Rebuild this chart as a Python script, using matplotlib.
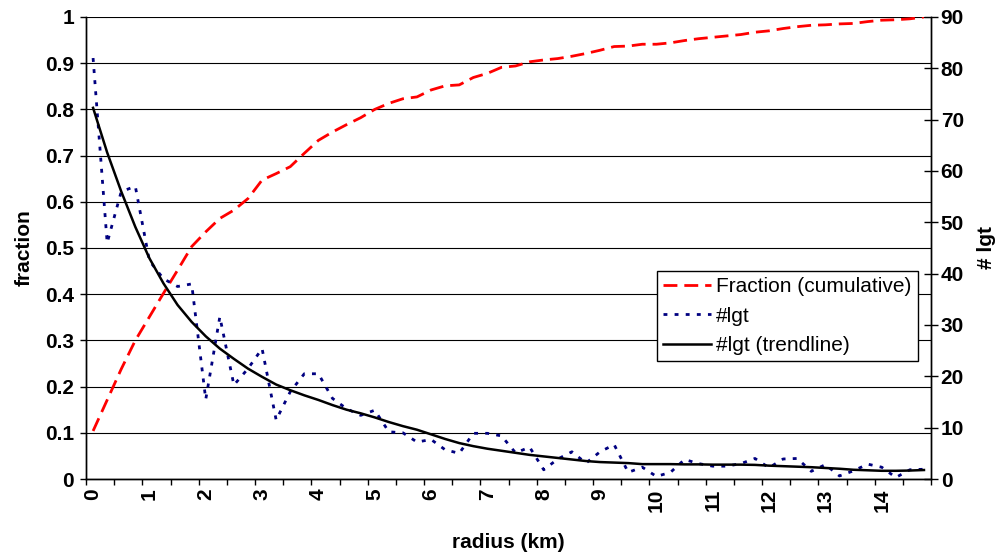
import numpy as np
import matplotlib.pyplot as plt

plt.rcParams['font.family'] = ['Liberation Sans', 'DejaVu Sans']

# categories: radius bins of 0.25 km
radius = np.arange(0, 15, 0.25)

# cumulative fraction (left axis)
fraction = [0.104, 0.171, 0.238, 0.300, 0.351, 0.402, 0.452, 0.503, 0.535, 0.564,
            0.582, 0.607, 0.647, 0.661, 0.676, 0.705, 0.733, 0.751, 0.767, 0.782,
            0.800, 0.813, 0.823, 0.827, 0.842, 0.851, 0.853, 0.869, 0.878, 0.891,
            0.894, 0.903, 0.907, 0.910, 0.915, 0.921, 0.928, 0.936, 0.937, 0.941,
            0.941, 0.944, 0.949, 0.953, 0.956, 0.959, 0.962, 0.967, 0.970, 0.975,
            0.979, 0.982, 0.983, 0.985, 0.986, 0.990, 0.993, 0.994, 0.996, 1.000]

# number of lightning per bin (right axis)
lgt = [82, 46, 56, 57, 42.5, 39, 37.5, 38, 15.5, 31.6,
       18.3, 21.5, 25.4, 11.5, 17, 20.5, 20.5, 15.7, 13.7, 12.4,
       13.4, 9.2, 9.0, 7.2, 7.7, 5.7, 5.0, 8.9, 8.9, 8.4,
       5.1, 6.2, 1.8, 3.9, 5.3, 3.1, 5.3, 6.7, 1.3, 2.3,
       0.5, 1.3, 3.8, 3.0, 2.5, 2.5, 3.0, 4.0, 2.2, 3.9,
       4.0, 1.5, 2.8, 0.6, 1.6, 2.9, 2.3, 0.3, 1.8, 1.9]

# trendline of #lgt
trend = [72.3, 63.6, 56.0, 49.1, 43.0, 38.1, 33.9, 30.6, 27.8, 25.4,
         23.4, 21.5, 19.9, 18.4, 17.3, 16.3, 15.4, 14.4, 13.5, 12.8,
         12.0, 11.1, 10.3, 9.6, 8.7, 7.8, 7.0, 6.4, 5.9, 5.5,
         5.1, 4.7, 4.4, 4.1, 3.8, 3.5, 3.3, 3.2, 3.1, 2.9,
         2.9, 2.9, 2.85, 2.85, 2.8, 2.8, 2.8, 2.75, 2.6, 2.5,
         2.4, 2.3, 2.15, 2.0, 1.8, 1.7, 1.6, 1.6, 1.65, 1.75]

xlabels = [str(i) for i in range(15)]
frac_ticks = np.round(np.arange(0, 1.01, 0.1), 1)
frac_labels = ['0'] + ['%.1f' % v for v in frac_ticks[1:-1]] + ['1']

fig = plt.figure(figsize=(10.04, 5.53), dpi=100)
ax = fig.add_axes([0.0857, 0.1338, 0.8416, 0.8355])
ax2 = ax.twinx()

l1, = ax.plot(radius, fraction, color='#ff0000', lw=2, dashes=(5, 2.5),
              label='Fraction (cumulative)')
l2, = ax2.plot(radius, lgt, color='#000080', lw=2, dashes=(1.4, 2.6), label='#lgt')
l3, = ax2.plot(radius, trend, color='black', lw=1.8, label='#lgt (trendline)')

ax.set_xlim(-0.125, 14.875)
ax.set_ylim(0, 1)
ax2.set_ylim(0, 90)

ax.set_yticks(frac_ticks)
ax.set_yticklabels(frac_labels, fontsize=15, fontweight='bold')
ax2.set_yticks(np.arange(0, 91, 10))
ax2.set_yticklabels([str(v) for v in range(0, 91, 10)], fontsize=15, fontweight='bold')

# tick marks between categories, labels on every 4th category
ax.set_xticks(-0.125 + 0.5 * np.arange(31))
ax.set_xticklabels([])
ax.set_xticks(np.arange(15), minor=True)
ax.set_xticklabels(xlabels, minor=True, rotation=90, fontsize=15, fontweight='bold')
ax.tick_params(axis='x', which='major', direction='out', length=4.5, width=1)
ax.tick_params(axis='x', which='minor', length=0, pad=7)
ax.tick_params(axis='y', direction='out', length=4.5, width=1, pad=4)
ax2.tick_params(axis='y', direction='inout', length=10, width=1, pad=2)

ax.yaxis.grid(True, color='black', lw=0.8)
ax.set_axisbelow(True)

for a in (ax, ax2):
    a.spines['top'].set_visible(False)
    for s in ('left', 'right', 'bottom'):
        a.spines[s].set_linewidth(1)
        a.spines[s].set_color('black')

ax.set_ylabel('fraction', fontsize=15, fontweight='bold')
ax.yaxis.set_label_coords(-0.062, 0.5)
ax2.set_ylabel('# lgt', fontsize=15, fontweight='bold')
ax2.yaxis.set_label_coords(1.054, 0.5)
ax.set_xlabel('radius (km)', fontsize=15, fontweight='bold')
ax.xaxis.set_label_coords(0.4994, -0.117)

leg = ax2.legend(handles=[l1, l2, l3], loc='upper right', bbox_to_anchor=(0.9846, 0.45),
                 borderaxespad=0, fontsize=15, frameon=True, fancybox=False,
                 framealpha=1, edgecolor='black', handlelength=2.3,
                 handletextpad=0.25, labelspacing=0.5, borderpad=0.3)
leg.get_frame().set_linewidth(1)

fig.savefig('out.png', dpi=100)
